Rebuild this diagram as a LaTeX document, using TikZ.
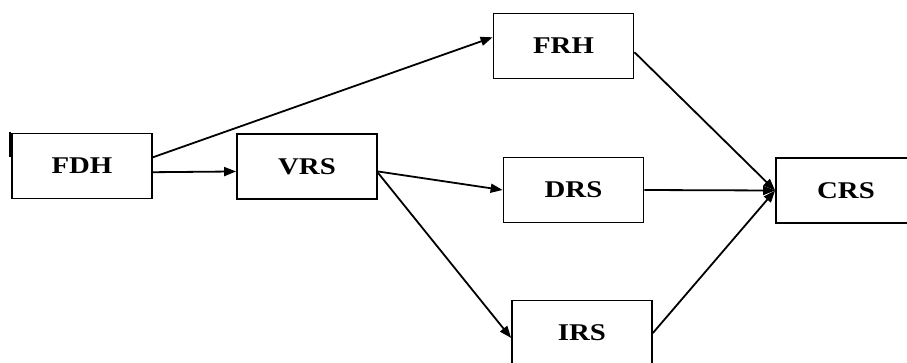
\documentclass[tikz,border=0pt]{standalone}
\usepackage{fontspec}
\setmainfont{Liberation Serif}
\newfontfamily\boxfont[FakeStretch=1.2]{Liberation Serif}
\usetikzlibrary{arrows.meta}
\tikzset{
  blk/.style={draw, line width=1.8pt, minimum width=140pt, minimum height=65pt,
    inner sep=0pt, font=\boxfont\bfseries\fontsize{24}{28}\selectfont},
  conn/.style={-{Triangle[length=12pt,width=9pt]}, line width=1.8pt}
}
\begin{document}
\begin{tikzpicture}[x=1pt,y=-1pt]%
\useasboundingbox (0,0) rectangle (907,362);
\clip (0,0) rectangle (907,362);
% boxes
\node[blk] (FDH) at (82,166) {FDH};
\node[blk] (VRS) at (307,166.5) {VRS};
\node[blk] (FRH) at (563.5,46) {FRH};
\node[blk] (DRS) at (573.5,190) {DRS};
\node[blk] (IRS) at (582,333) {IRS};
\node[blk] (CRS) at (846,190.5) {CRS};
% mark at the left of FDH
\coordinate (marka) at (10,132);
\coordinate (markb) at (10,157);
\draw[line width=2.5pt] (marka) -- (markb);
% connectors
\draw[conn] (FDH.7) -- (FRH.173);
\draw[conn] (FDH.-5) -- (VRS.184);
\draw[conn] (VRS.-4) -- (DRS.west);
\draw[conn] (VRS.-5) -- (IRS.184);
\draw[conn] (FRH.-5) -- (CRS.west);
\draw[conn] (DRS.east) -- (CRS.west);
\draw[conn] (IRS.east) -- (CRS.west);
\end{tikzpicture}
\end{document}
